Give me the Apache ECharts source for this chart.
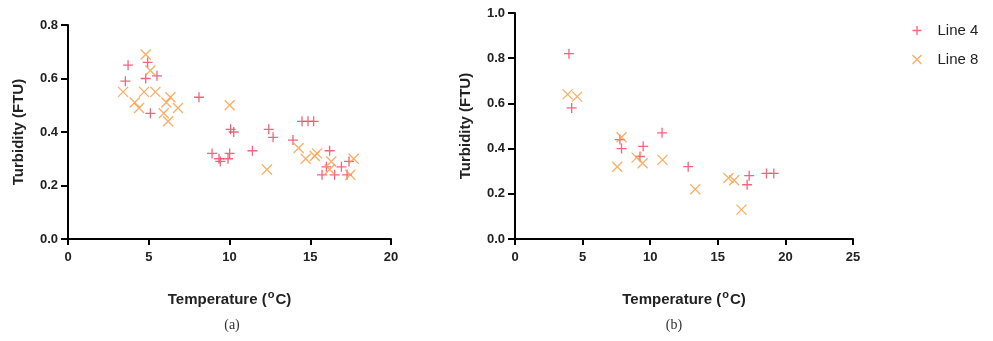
<!DOCTYPE html>
<html>
<head>
<meta charset="utf-8">
<script src="https://cdn.jsdelivr.net/npm/echarts@6/dist/echarts.min.js"></script>
<style>html,body{margin:0;padding:0;background:#fff;}#c{width:993px;height:341px;}</style>
</head>
<body>
<div id="c"></div>
<script>
// ---- data ----
const leftLine4Temp = [3.72,3.55,4.93,4.81,5.51,5.10,8.11,10.07,10.26,8.92,9.35,9.43,9.91,10.01,11.42,12.43,12.70,13.93,14.49,14.86,15.21,16.20,16.00,16.93,17.40,15.73,16.51,17.28];
const leftLine4Turb = [0.65,0.59,0.66,0.60,0.61,0.47,0.53,0.41,0.40,0.32,0.30,0.29,0.30,0.32,0.33,0.41,0.38,0.37,0.44,0.44,0.44,0.33,0.27,0.27,0.29,0.24,0.24,0.24];
const leftLine8Temp = [4.81,5.10,3.41,4.71,5.41,4.13,4.40,6.09,6.34,5.93,6.20,6.81,10.01,12.32,14.28,14.72,15.28,15.42,16.30,16.20,17.69,17.48];
const leftLine8Turb = [0.69,0.63,0.55,0.55,0.55,0.51,0.49,0.51,0.53,0.47,0.44,0.49,0.50,0.26,0.34,0.30,0.31,0.32,0.29,0.26,0.30,0.24];
const rightLine4Temp = [3.99,4.19,7.76,7.88,9.48,9.24,10.88,12.81,17.32,17.17,18.60,19.14];
const rightLine4Turb = [0.82,0.58,0.44,0.40,0.41,0.365,0.47,0.32,0.28,0.24,0.29,0.29];
const rightLine8Temp = [3.89,4.60,7.88,7.56,8.99,9.44,10.91,13.33,15.79,16.21,16.75];
const rightLine8Turb = [0.64,0.63,0.45,0.32,0.36,0.335,0.35,0.22,0.27,0.26,0.13];
const seriesNames = ['Line 4','Line 8'];
const panelLabels = ['(a)','(b)'];
const xTitle = '{n|Temperature (}{sup|o}{n|C)}';
const yTitle = 'Turbidity (FTU)';

const COL4 = '#f04a64', COL8 = '#f8a04a';
const PLUS = 'path://M0,5L10,5M5,0L5,10';
const CROSS = 'path://M0,0L10,10M10,0L0,10';
const zip = (a,b) => a.map((v,i)=>[v,b[i]]);

const font = '"Liberation Sans", Arial, sans-serif';
function xAxis(gi, max){
  return {
    gridIndex: gi, type:'value', min:0, max:max, interval:5,
    name: xTitle, nameLocation:'middle', nameGap: 50,
    nameTextStyle:{fontFamily:font,fontWeight:'bold',fontSize:15,color:'#222',
      rich:{
        n:{fontFamily:font,fontWeight:'bold',fontSize:15,color:'#222',verticalAlign:'bottom'},
        sup:{fontFamily:font,fontWeight:'bold',fontSize:11,color:'#222',verticalAlign:'top',padding:[0,1,7,1]}}},
    axisLine:{show:true,lineStyle:{color:'#000',width:2}},
    axisTick:{show:true,length:6,lineStyle:{color:'#000',width:2}},
    axisLabel:{fontFamily:font,fontWeight:'bold',fontSize:13,color:'#222',margin:12},
    splitLine:{show:false}
  };
}
function yAxis(gi, max){
  return {
    gridIndex: gi, type:'value', min:0, max:max, interval:0.2,
    name: yTitle, nameLocation:'middle', nameGap: 42, nameRotate:90,
    nameTextStyle:{fontFamily:font,fontWeight:'bold',fontSize:15,color:'#222'},
    axisLine:{show:true,lineStyle:{color:'#000',width:2}},
    axisTick:{show:true,length:7,lineStyle:{color:'#000',width:2}},
    axisLabel:{fontFamily:font,fontWeight:'bold',fontSize:13,color:'#222',margin:10,
      formatter:v=>v.toFixed(1)},
    splitLine:{show:false}
  };
}
function sc(name, xi, data, sym, col){
  return {
    type:'scatter', name:name, xAxisIndex:xi, yAxisIndex:xi, data:data,
    symbol:sym, symbolSize:10,
    itemStyle:{color:'none',borderColor:col,borderWidth:1.3,opacity:0.85},
    emphasis:{disabled:true}, animation:false
  };
}
const chart = echarts.init(document.getElementById('c'), null, {renderer:'canvas'});
chart.setOption({
  backgroundColor:'#fff',
  animation:false,
  grid:[
    {left:68, right:602, top:25, bottom:102},
    {left:515, right:140, top:13, bottom:102}
  ],
  xAxis:[xAxis(0,20), xAxis(1,25)],
  yAxis:[yAxis(0,0.8), yAxis(1,1.0)],
  legend:{
    orient:'vertical', left:905, top:18, itemGap:14, itemWidth:9, itemHeight:9,
    textStyle:{fontFamily:font,fontSize:15,color:'#222',padding:[0,0,0,11]},
    data:[
      {name:seriesNames[0], icon:PLUS, itemStyle:{color:'none',borderColor:COL4,borderWidth:1.3}},
      {name:seriesNames[1], icon:CROSS, itemStyle:{color:'none',borderColor:COL8,borderWidth:1.3}}
    ],
    selectedMode:false
  },
  graphic:[
    {type:'text', style:{text:panelLabels[0], x:232, y:325, align:'center', verticalAlign:'middle', font:'14px "Liberation Serif", serif', fill:'#333'}},
    {type:'text', style:{text:panelLabels[1], x:674, y:325, align:'center', verticalAlign:'middle', font:'14px "Liberation Serif", serif', fill:'#333'}}
  ],
  series:[
    sc(seriesNames[0],0,zip(leftLine4Temp,leftLine4Turb),PLUS,COL4),
    sc(seriesNames[1],0,zip(leftLine8Temp,leftLine8Turb),CROSS,COL8),
    sc(seriesNames[0],1,zip(rightLine4Temp,rightLine4Turb),PLUS,COL4),
    sc(seriesNames[1],1,zip(rightLine8Temp,rightLine8Turb),CROSS,COL8)
  ]
});
</script>
</body>
</html>
